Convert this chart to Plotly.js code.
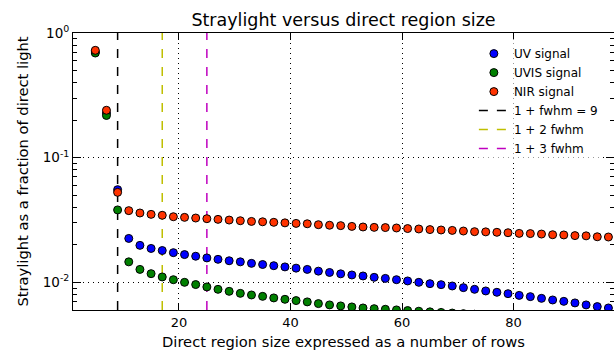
<!DOCTYPE html>
<html>
<head>
<meta charset="utf-8">
<script src="https://cdn.plot.ly/plotly-3.0.1.min.js"></script>
<style>html,body{margin:0;padding:0;background:#fff;}#chart{width:614px;height:351px;}</style>
</head>
<body>
<div id="chart"></div>
<script>
// Direct region size (rows)
var rows = [5,7,9,11,13,15,17,19,21,23,25,27,29,31,33,35,37,39,41,43,45,47,49,51,53,55,57,59,61,63,65,67,69,71,73,75,77,79,81,83,85,87,89,91,93,95,97];
// Straylight fractions
var uvSignal = [0.705,0.228,0.0554,0.0225,0.0198,0.0187,0.0180,0.0173,0.0167,0.0162,0.0157,0.0153,0.0149,0.0146,0.0142,0.0139,0.0136,0.0133,0.0130,0.0127,0.0123,0.0120,0.0117,0.01146,0.01125,0.01097,0.01076,0.0105,0.01026,0.0100,0.00976,0.00958,0.00935,0.00907,0.00879,0.00853,0.00832,0.00811,0.00786,0.00768,0.00744,0.00722,0.00704,0.00684,0.00659,0.00639,0.00623];
var uvisSignal = [0.691,0.218,0.0381,0.0146,0.0127,0.01174,0.01105,0.0105,0.0100,0.0096,0.00919,0.00879,0.00847,0.00816,0.00792,0.00772,0.00750,0.00731,0.00714,0.00697,0.00675,0.00659,0.00647,0.00635,0.00623,0.00615,0.00608,0.00601,0.00594,0.00587,0.0058,0.00574,0.00567,0.00561,0.00555,0.00549,0.00543,0.00537,0.00531,0.00526,0.0052,0.00515,0.0051,0.00505,0.005,0.00495,0.0049];
var nirSignal = [0.726,0.240,0.0527,0.0376,0.0360,0.0351,0.0345,0.0336,0.0332,0.0328,0.0324,0.0320,0.0316,0.0312,0.0308,0.0306,0.0303,0.0300,0.0297,0.0295,0.0290,0.0287,0.0285,0.0281,0.0278,0.0276,0.0275,0.0273,0.0270,0.0268,0.0265,0.0263,0.0261,0.0258,0.0255,0.0254,0.0252,0.0250,0.0247,0.0246,0.0244,0.0241,0.0240,0.0237,0.0236,0.0232,0.0231];
var signalNames = ["UV signal","UVIS signal","NIR signal"];
// FWHM markers
var fwhmRows = [9,17,25];
var fwhmNames = ["1 + fwhm = 9","1 + 2 fwhm","1 + 3 fwhm"];
// axis
var xLimits = [1,98];
var yLimits = [0.006,1];
var xTicks = [20,40,60,80];
var yTicks = [0.01,0.1,1];
var yTickText = ["10<sup>-2</sup>","10<sup>-1</sup>","10<sup>0</sup>"];
var yMinor = [0.006,0.007,0.008,0.009,0.02,0.03,0.04,0.05,0.06,0.07,0.08,0.09,0.2,0.3,0.4,0.5,0.6,0.7,0.8,0.9];

var signalColors = ["#0000ff","#008000","#ff3300"];
var lineColors = ["#000000","#bfbf00","#bf00bf"];
var signals = [uvSignal, uvisSignal, nirSignal];

var data = [];
for (var k = 0; k < fwhmRows.length; k++) {
  data.push({
    type: "scatter", mode: "lines",
    x: [fwhmRows[k], fwhmRows[k]], y: yLimits,
    name: fwhmNames[k], legendrank: 10 + k,
    line: {color: lineColors[k], width: 1.5, dash: "9px,9px"},
    hoverinfo: "skip"
  });
}
for (var s = 0; s < signals.length; s++) {
  data.push({
    type: "scatter", mode: "markers",
    x: rows, y: signals[s],
    name: signalNames[s], legendrank: 1 + s,
    marker: {color: signalColors[s], size: 8, line: {color: "#000", width: 1}}
  });
}

var layout = {
  width: 614, height: 351,
  margin: {l: 73, r: 0, t: 33, b: 41},
  paper_bgcolor: "#fff", plot_bgcolor: "#fff",
  font: {family: "DejaVu Sans", size: 13, color: "#000"},
  title: {text: "Straylight versus direct region size", font: {family: "DejaVu Sans", size: 17.5, color: "#000"},
          x: 0.5, xref: "paper", xanchor: "center", y: 1, yref: "container", yanchor: "top", pad: {t: 14}},
  showlegend: true,
  legend: {x: 0.741, xanchor: "left", y: 0.978, yanchor: "top", bgcolor: "rgba(255,255,255,0.6)",
           borderwidth: 0, font: {family: "DejaVu Sans", size: 12, color: "#000"}, traceorder: "normal"},
  xaxis: {
    range: xLimits, tickmode: "array", tickvals: xTicks,
    ticks: "inside", ticklen: 7, tickcolor: "#000", tickwidth: 1,
    showline: true, linecolor: "#000", linewidth: 1, mirror: "ticks",
    showgrid: true, gridcolor: "#000", gridwidth: 1, griddash: "1px,4px",
    zeroline: false,
    tickfont: {family: "DejaVu Sans", size: 13, color: "#000"},
    title: {text: "Direct region size expressed as a number of rows", font: {family: "DejaVu Sans", size: 14.7, color: "#000"}, standoff: 8}
  },
  yaxis: {
    type: "log", range: [Math.log10(yLimits[0]), Math.log10(yLimits[1])],
    tickmode: "array", tickvals: yTicks, ticktext: yTickText,
    ticks: "inside", ticklen: 8, tickcolor: "#000", tickwidth: 1,
    showline: true, linecolor: "#000", linewidth: 1, mirror: "ticks",
    showgrid: true, gridcolor: "#000", gridwidth: 1, griddash: "1px,4px",
    zeroline: false,
    minor: {tickmode: "array", tickvals: yMinor, ticks: "inside", ticklen: 4, tickcolor: "#000", showgrid: false},
    tickfont: {family: "DejaVu Sans", size: 13.5, color: "#000"},
    title: {text: "Straylight as a fraction of direct light", font: {family: "DejaVu Sans", size: 14.7, color: "#000"}, standoff: 10}
  }
};
Plotly.newPlot("chart", data, layout, {staticPlot: true, displayModeBar: false});
</script>
</body>
</html>
